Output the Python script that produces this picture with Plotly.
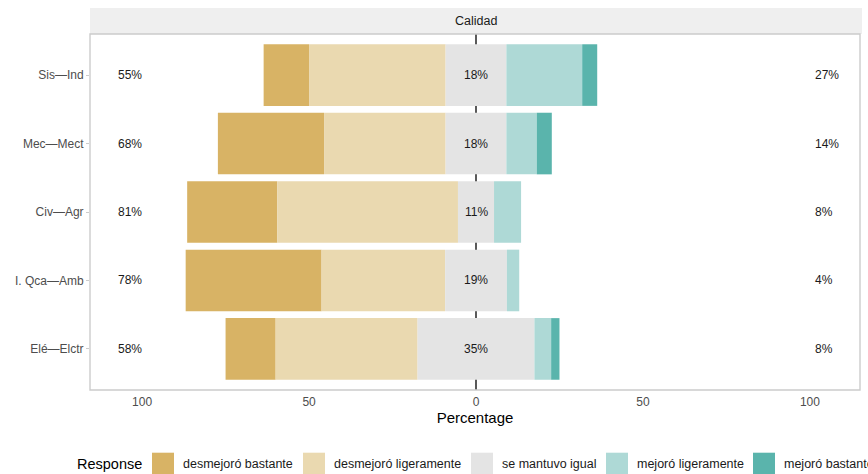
import plotly.graph_objects as go

# ---------------- data ----------------
programs = ["Sis—Ind", "Mec—Mect", "Civ—Agr", "I. Qca—Amb", "Elé—Elctr"]
responses = ["desmejoró bastante", "desmejoró ligeramente", "se mantuvo igual",
             "mejoró ligeramente", "mejoró bastante"]
colors = ["#D8B365", "#EAD9B0", "#E4E4E4", "#AED9D6", "#5AB4AC"]

desm_bastante = [13.6, 31.8, 27.0, 40.7, 15.0]
desm_ligeramente = [40.9, 36.4, 54.1, 37.0, 42.5]
se_mantuvo = [18.2, 18.2, 10.8, 18.5, 35.0]
mej_ligeramente = [22.7, 9.1, 8.1, 3.7, 5.0]
mej_bastante = [4.5, 4.5, 0.0, 0.0, 2.5]

low_labels = ["55%", "68%", "81%", "78%", "58%"]
neutral_labels = ["18%", "18%", "11%", "19%", "35%"]
high_labels = ["27%", "14%", "8%", "4%", "8%"]

tick_vals = [-100, -50, 0, 50, 100]
tick_text = ["100", "50", "0", "50", "100"]
facet_title = "Calidad"
x_title = "Percentage"
legend_title = "Response"

# ---------------- geometry ----------------
W, H = 868, 474
ML, MR, MT, MB = 90, 8, 34, 84
PW, PH = W - ML - MR, H - MT - MB
FONT = "Liberation Sans, Arial, sans-serif"


def px_x(px):
    return (px - ML) / PW


def px_y(py):
    return (H - MB - py) / PH


half = [n / 2 for n in se_mantuvo]
segments = [
    (desm_bastante, [-(h + a + b) for h, a, b in zip(half, desm_ligeramente, desm_bastante)]),
    (desm_ligeramente, [-(h + a) for h, a in zip(half, desm_ligeramente)]),
    (se_mantuvo, [-h for h in half]),
    (mej_ligeramente, half),
    (mej_bastante, [h + a for h, a in zip(half, mej_ligeramente)]),
]

fig = go.Figure()
for name, color, (vals, base) in zip(responses, colors, segments):
    fig.add_trace(go.Bar(
        y=programs, x=vals, base=base, orientation="h", name=name,
        marker=dict(color=color, line=dict(width=0)), width=0.9,
        showlegend=False,
    ))

annotations = []
for p, lo, ne, hi in zip(programs, low_labels, neutral_labels, high_labels):
    annotations.append(dict(x=-103.6, y=p, text=lo, showarrow=False, xanchor="center",
                            font=dict(size=12, color="#1a1a1a", family=FONT)))
    annotations.append(dict(x=0, y=p, text=ne, showarrow=False, xanchor="center",
                            font=dict(size=12, color="#1a1a1a", family=FONT)))
    annotations.append(dict(x=100.9, y=p, text=hi, showarrow=False, xanchor="left",
                            font=dict(size=12, color="#1a1a1a", family=FONT)))

# facet strip title
annotations.append(dict(xref="paper", yref="paper", x=px_x(475.5), y=px_y(21),
                        text=facet_title, showarrow=False, xanchor="center", yanchor="middle",
                        font=dict(size=12.5, color="#1a1a1a", family=FONT)))

shapes = [
    # strip background
    dict(type="rect", xref="paper", yref="paper", x0=0, x1=px_x(862), y0=1, y1=px_y(8),
         fillcolor="#EFEFEF", line=dict(width=0), layer="below"),
    # zero line (behind bars)
    dict(type="line", xref="x", yref="paper", x0=0, x1=0, y0=0, y1=1,
         line=dict(color="#000000", width=1.3), layer="below"),
    # panel border
    dict(type="rect", xref="paper", yref="paper", x0=0, x1=1, y0=0, y1=1,
         line=dict(color="#CCCCCC", width=1.4), fillcolor="rgba(0,0,0,0)", layer="above"),
]

# manual legend (runs past the right edge like the reference)
swatch_left = [152, 303, 471, 606, 753]
legend_cy = 463.7
annotations.append(dict(xref="paper", yref="paper", x=px_x(143.5), y=px_y(legend_cy),
                        text=legend_title, showarrow=False, xanchor="right", yanchor="middle",
                        font=dict(size=14.5, color="#000000", family=FONT)))
for name, color, sx in zip(responses, colors, swatch_left):
    shapes.append(dict(type="rect", xref="paper", yref="paper",
                       x0=px_x(sx), x1=px_x(sx + 22), y0=px_y(452.7), y1=px_y(474.7),
                       fillcolor=color, line=dict(width=0)))
    annotations.append(dict(xref="paper", yref="paper", x=px_x(sx + 29), y=px_y(legend_cy),
                            text=name, showarrow=False, xanchor="left", yanchor="middle",
                            font=dict(size=12.5, color="#1a1a1a", family=FONT)))

fig.update_layout(
    width=W, height=H,
    margin=dict(l=ML, r=MR, t=MT, b=MB, autoexpand=False),
    barmode="overlay",
    plot_bgcolor="#FFFFFF", paper_bgcolor="#FFFFFF",
    font=dict(family=FONT, size=12, color="#4D4D4D"),
    showlegend=False,
    annotations=annotations,
    shapes=shapes,
    xaxis=dict(range=[-115.6, 115.0], tickvals=tick_vals, ticktext=tick_text,
               showgrid=False, zeroline=False, showline=False, ticks="",
               ticklabelstandoff=3,
               tickfont=dict(size=12, color="#4D4D4D", family=FONT),
               title=dict(text=x_title, font=dict(size=15, color="#000000", family=FONT),
                          standoff=3)),
    yaxis=dict(type="category", categoryorder="array", categoryarray=programs[::-1],
               range=[-0.6, 4.6], showgrid=False, zeroline=False, showline=False,
               ticks="outside", ticklen=3, tickcolor="#CCCCCC",
               tickfont=dict(size=12, color="#4D4D4D", family=FONT)),
)

fig.write_html(
    "out.html",
    config={"displayModeBar": False},
    post_script="document.body.style.margin='0';document.body.style.overflow='hidden';",
)
